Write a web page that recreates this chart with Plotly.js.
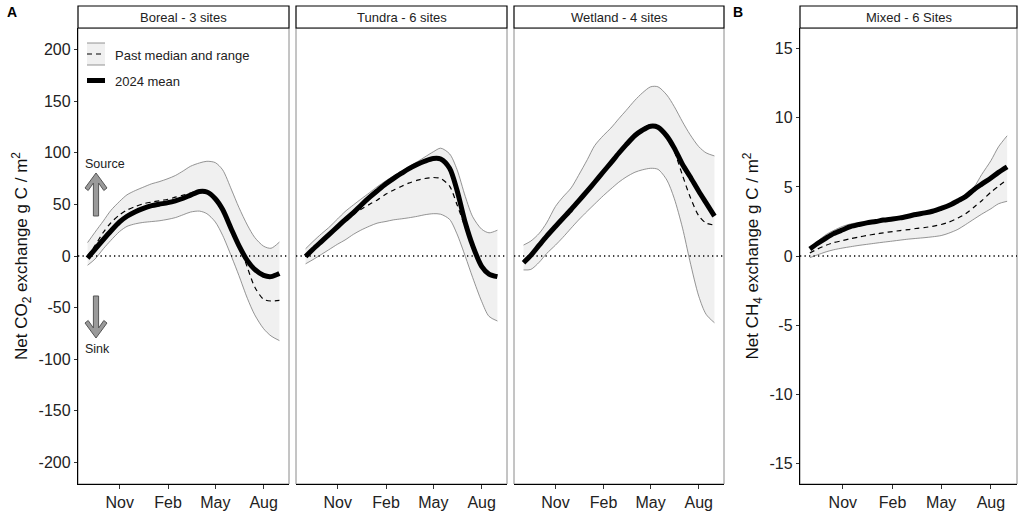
<!DOCTYPE html>
<html><head><meta charset="utf-8">
<script src="https://cdn.plot.ly/plotly-3.0.1.min.js"></script>
<style>html,body{margin:0;padding:0;background:#fff}</style>
</head><body><div id="chart" style="width:1024px;height:512px"></div>
<script>
// ---------------- data ----------------
const dates = ['2023-09-01','2023-09-15','2023-10-01','2023-10-15','2023-11-01','2023-11-15','2023-12-01','2023-12-15',
  '2024-01-01','2024-01-15','2024-02-01','2024-02-15','2024-03-01','2024-03-15','2024-04-01','2024-04-15',
  '2024-05-01','2024-05-15','2024-06-01','2024-06-15','2024-07-01','2024-07-15','2024-08-01','2024-08-15','2024-08-31'];
const tickDates = ['2023-11-01','2024-02-01','2024-05-01','2024-08-01'];
const tickLabels = ['Nov','Feb','May','Aug'];
const panelTitles = ['Boreal - 3 sites','Tundra - 6 sites','Wetland - 4 sites','Mixed - 6 Sites'];
const co2Ticks = [-200,-150,-100,-50,0,50,100,150,200];
const ch4Ticks = [-15,-10,-5,0,5,10,15];

const borealMean   = [-2, 6.5, 16, 24, 33, 38.5, 43, 46, 48.8, 50.2, 51.7, 53.5, 56, 59, 62.5, 62, 55.5, 45, 25.5, 10, -4.5, -13, -18.8, -20, -17];
const borealMedian = [0, 10, 23, 32, 40, 44.5, 48, 50.5, 52.3, 53.5, 55, 57, 59, 61, 63.2, 62.5, 56, 45.5, 27, 12, -11, -30, -42, -43.6, -43];
const borealUpper  = [13, 23, 34, 44, 53, 59.3, 63.5, 66.5, 70, 72, 75, 78, 82.5, 87, 90.2, 91.8, 90.5, 83.5, 64, 47, 30, 18, 9.5, 7.5, 13.5];
const borealLower  = [-9, -3, 7, 15, 23.8, 28.7, 31.2, 32.5, 33.4, 34.1, 35.6, 37.2, 40, 42.6, 43.5, 41, 33, 20, -0.8, -19, -41, -57, -70.5, -77.5, -82];

const tundraMean   = [-0.5, 6.5, 14, 20.5, 28.5, 35, 42, 49, 57, 63, 70, 75, 80, 84.5, 89, 92, 94.5, 94, 85, 64, 32, 10, -10, -17.5, -20];
const tundraMedian = [-0.5, 6.5, 14, 20.5, 28.5, 34.5, 40.5, 45, 50.2, 54.1, 60, 63.8, 67.4, 70.6, 73.5, 75.1, 76.1, 75.1, 67.7, 50, 27.4, 8, -10, -17.5, -20];
const tundraUpper  = [7, 14, 21.5, 27.5, 36, 43, 49.5, 55, 61.5, 67, 73, 77.5, 82, 86.5, 91.5, 96, 101, 104.5, 99, 84, 57.5, 38, 26, 22.5, 25];
const tundraLower  = [-7.6, -3.5, 1.5, 6, 11.5, 15.5, 21, 25, 29, 31.8, 33.5, 35, 36, 37, 38.5, 40, 41, 40.5, 35.5, 21.5, -0.5, -21, -44, -58.5, -63];

const wetlandMean   = [-6.5, 0.6, 10.5, 19, 28.6, 36.4, 45.1, 53.2, 63.1, 71.5, 81.9, 90.3, 99.6, 107.7, 116.8, 121.9, 125.8, 124.8, 116.2, 104.8, 88.7, 77.3, 62.8, 51.5, 38.6];
const wetlandMedian = [-4, 2, 11.5, 19.5, 29, 36.6, 45.2, 53.2, 63.1, 71.5, 81.9, 90.3, 99.6, 108, 117.5, 123, 127.5, 126, 117, 102, 78, 58, 39, 32, 30];
const wetlandUpper  = [10.6, 14.5, 22, 32, 48, 57, 66, 78, 93.5, 107, 117, 124, 133, 141, 151, 158, 164, 164, 156, 145, 130, 118, 106, 100, 97];
const wetlandLower  = [-13.5, -13, -6, 2.3, 10.5, 17.9, 27, 34.8, 43.5, 50.4, 58.7, 65, 71.5, 76.5, 81.2, 83.5, 85, 84, 73.6, 56, 27, -4.7, -39, -56.5, -64.7];

const mixedMean   = [0.5, 0.9, 1.3, 1.62, 1.9, 2.12, 2.28, 2.4, 2.5, 2.6, 2.68, 2.76, 2.88, 3.0, 3.12, 3.24, 3.45, 3.65, 4.0, 4.3, 4.82, 5.2, 5.65, 6.05, 6.45];
const mixedMedian = [0.22, 0.5, 0.78, 0.97, 1.12, 1.25, 1.38, 1.48, 1.59, 1.68, 1.77, 1.84, 1.91, 1.99, 2.06, 2.15, 2.28, 2.45, 2.75, 3.05, 3.55, 4.0, 4.62, 5.05, 5.53];
const mixedUpper  = [0.5, 1.05, 1.55, 1.85, 2.15, 2.32, 2.42, 2.48, 2.55, 2.62, 2.7, 2.78, 2.9, 3.02, 3.15, 3.28, 3.5, 3.72, 4.1, 4.45, 5.0, 5.9, 6.9, 7.9, 8.7];
const mixedLower  = [-0.12, 0.08, 0.3, 0.45, 0.58, 0.67, 0.77, 0.84, 0.93, 1.0, 1.08, 1.15, 1.22, 1.27, 1.33, 1.39, 1.48, 1.65, 1.93, 2.27, 2.68, 3.03, 3.42, 3.78, 3.96];

const legendLabels = ['Past median and range', '2024 mean'];

// ---------------- geometry ----------------
const W = 1024, H = 512;
const px = x => x / W, py = y => 1 - y / H;
const FONT = 'Liberation Sans, Arial, Helvetica, sans-serif';
const panelsPx = [[78, 289], [296, 507], [514, 724], [800, 1017]];
const plotTop = 28, plotBot = 484, stripTop = 6;
const yDom = [py(plotBot), py(plotTop)];
const xRange = ['2023-08-13 18:00', '2024-09-18 06:00'];

const series = [
  [borealLower, borealUpper, borealMean, borealMedian],
  [tundraLower, tundraUpper, tundraMean, tundraMedian],
  [wetlandLower, wetlandUpper, wetlandMean, wetlandMedian],
  [mixedLower, mixedUpper, mixedMean, mixedMedian]
];

const traces = [];
series.forEach((s, i) => {
  const xa = i === 0 ? 'x' : 'x' + (i + 1), ya = i === 0 ? 'y' : 'y' + (i + 1);
  const base = {x: dates, xaxis: xa, yaxis: ya, type: 'scatter', mode: 'lines', hoverinfo: 'skip', showlegend: false};
  traces.push(Object.assign({}, base, {y: s[0], line: {color: '#7a7a7a', width: 0.8, shape: 'spline', smoothing: 0.8}}));
  traces.push(Object.assign({}, base, {y: s[1], fill: 'tonexty', fillcolor: '#f0f0f0', line: {color: '#7a7a7a', width: 0.8, shape: 'spline', smoothing: 0.8}}));
  traces.push(Object.assign({}, base, {y: s[2], line: {color: '#000', width: 5, shape: 'spline', smoothing: 0.8}}));
  traces.push(Object.assign({}, base, {y: s[3], line: {color: '#000', width: 1.2, dash: '5px,4px', shape: 'spline', smoothing: 0.8}}));
});

const layout = {
  width: W, height: H, margin: {l: 0, r: 0, t: 0, b: 0},
  paper_bgcolor: '#fff', plot_bgcolor: '#fff', showlegend: false,
  font: {family: FONT, color: '#222'},
  shapes: [], annotations: []
};

function textAnn(x, y, text, size, extra) {
  return Object.assign({xref: 'paper', yref: 'paper', x: px(x), y: py(y), text: text, showarrow: false,
    xanchor: 'center', yanchor: 'middle', font: {size: size, family: FONT, color: '#222'}}, extra || {});
}

panelsPx.forEach((p, i) => {
  const k = i === 0 ? '' : String(i + 1);
  const isCH4 = i === 3;
  layout['xaxis' + k] = {
    domain: [px(p[0]), px(p[1])], anchor: 'y' + k, type: 'date', range: xRange,
    tickmode: 'array', tickvals: tickDates, ticktext: tickLabels,
    ticks: 'outside', ticklen: 4, tickcolor: '#333', tickwidth: 1,
    tickfont: {size: 16, family: FONT, color: '#222'},
    showline: true, linecolor: '#000', linewidth: 1.2, showgrid: false, zeroline: false, fixedrange: true
  };
  const ya = {domain: yDom, anchor: 'x' + k, showgrid: false, zeroline: false, fixedrange: true};
  if (i === 0 || isCH4) {
    const tv = isCH4 ? ch4Ticks : co2Ticks;
    Object.assign(ya, {
      range: isCH4 ? [-16.5, 16.5] : [-221, 221],
      tickmode: 'array', tickvals: tv, ticktext: tv.map(String),
      ticks: 'outside', ticklen: 3, tickcolor: '#333', tickwidth: 1,
      tickfont: {size: 16, family: FONT, color: '#222'},
      showline: true, linecolor: '#000', linewidth: 1.2,
      title: {text: isCH4 ? 'Net CH<sub>4</sub> exchange g C / m<sup>2</sup>' : 'Net CO<sub>2</sub> exchange g C / m<sup>2</sup>',
              font: {size: 17, family: FONT, color: '#111'}, standoff: 6}
    });
  } else {
    Object.assign(ya, {matches: 'y', showticklabels: false, ticks: '', showline: false});
  }
  layout['yaxis' + k] = ya;

  // panel border (gray)
  layout.shapes.push({type: 'rect', layer: 'below', xref: 'paper', yref: 'paper',
    x0: px(p[0]), x1: px(p[1]), y0: py(plotBot), y1: py(plotTop), line: {color: '#8a8a8a', width: 1}, fillcolor: 'rgba(0,0,0,0)'});
  // strip
  layout.shapes.push({type: 'rect', xref: 'paper', yref: 'paper',
    x0: px(p[0]), x1: px(p[1]), y0: py(plotTop), y1: py(stripTop), line: {color: '#000', width: 1.2}, fillcolor: '#fff'});
  layout.annotations.push(textAnn((p[0] + p[1]) / 2, (plotTop + stripTop) / 2, panelTitles[i], 13));
  // zero dotted line
  layout.shapes.push({type: 'line', xref: 'x' + k + ' domain', yref: 'y' + k, x0: 0, x1: 1, y0: 0, y1: 0,
    line: {color: '#000', width: 1.3, dash: '1.3px,3.2px'}});
});

// panel letters
layout.annotations.push(textAnn(12, 12, '<b>A</b>', 14, {font: {size: 14, family: FONT, color: '#000'}}));
layout.annotations.push(textAnn(738, 12, '<b>B</b>', 14, {font: {size: 14, family: FONT, color: '#000'}}));

// legend (drawn inside Boreal panel)
layout.shapes.push({type: 'rect', xref: 'paper', yref: 'paper', x0: px(87), x1: px(105), y0: py(65), y1: py(43), line: {width: 0}, fillcolor: '#f0f0f0'});
layout.shapes.push({type: 'line', xref: 'paper', yref: 'paper', x0: px(87), x1: px(105), y0: py(43), y1: py(43), line: {color: '#7a7a7a', width: 0.8}});
layout.shapes.push({type: 'line', xref: 'paper', yref: 'paper', x0: px(87), x1: px(105), y0: py(65), y1: py(65), line: {color: '#7a7a7a', width: 0.8}});
layout.shapes.push({type: 'line', xref: 'paper', yref: 'paper', x0: px(87), x1: px(105), y0: py(54), y1: py(54), line: {color: '#000', width: 1.2, dash: '5px,4px'}});
layout.shapes.push({type: 'line', xref: 'paper', yref: 'paper', x0: px(87), x1: px(105), y0: py(80.5), y1: py(80.5), line: {color: '#000', width: 5}});
layout.annotations.push(textAnn(113, 55, legendLabels[0], 13, {xanchor: 'left'}));
layout.annotations.push(textAnn(113, 81, legendLabels[1], 13, {xanchor: 'left'}));

// Source / Sink chevron arrows (dir = -1 up, +1 down)
function arrowPath(cx, tipY, baseY, dir) {
  const s = 2.6, armX = 11, armY = 15, thick = 3.2;
  const pts = [
    [cx - s, baseY], [cx - s, tipY - dir * 10], [cx - armX + thick, tipY - dir * (armY + 2.5)],
    [cx - armX, tipY - dir * armY], [cx, tipY], [cx + armX, tipY - dir * armY],
    [cx + armX - thick, tipY - dir * (armY + 2.5)], [cx + s, tipY - dir * 10], [cx + s, baseY]
  ];
  return 'M ' + pts.map(q => px(q[0]).toFixed(5) + ',' + py(q[1]).toFixed(5)).join(' L ') + ' Z';
}
layout.shapes.push({type: 'path', xref: 'paper', yref: 'paper', path: arrowPath(96, 173, 216, -1),
  fillcolor: '#9a9a9a', line: {color: '#555', width: 1}});
layout.shapes.push({type: 'path', xref: 'paper', yref: 'paper', path: arrowPath(96, 338, 296, 1),
  fillcolor: '#9a9a9a', line: {color: '#555', width: 1}});
layout.annotations.push(textAnn(105, 164, 'Source', 12.5));
layout.annotations.push(textAnn(97, 349, 'Sink', 12.5));

Plotly.newPlot('chart', traces, layout, {staticPlot: true, displayModeBar: false});
</script>
</body></html>
